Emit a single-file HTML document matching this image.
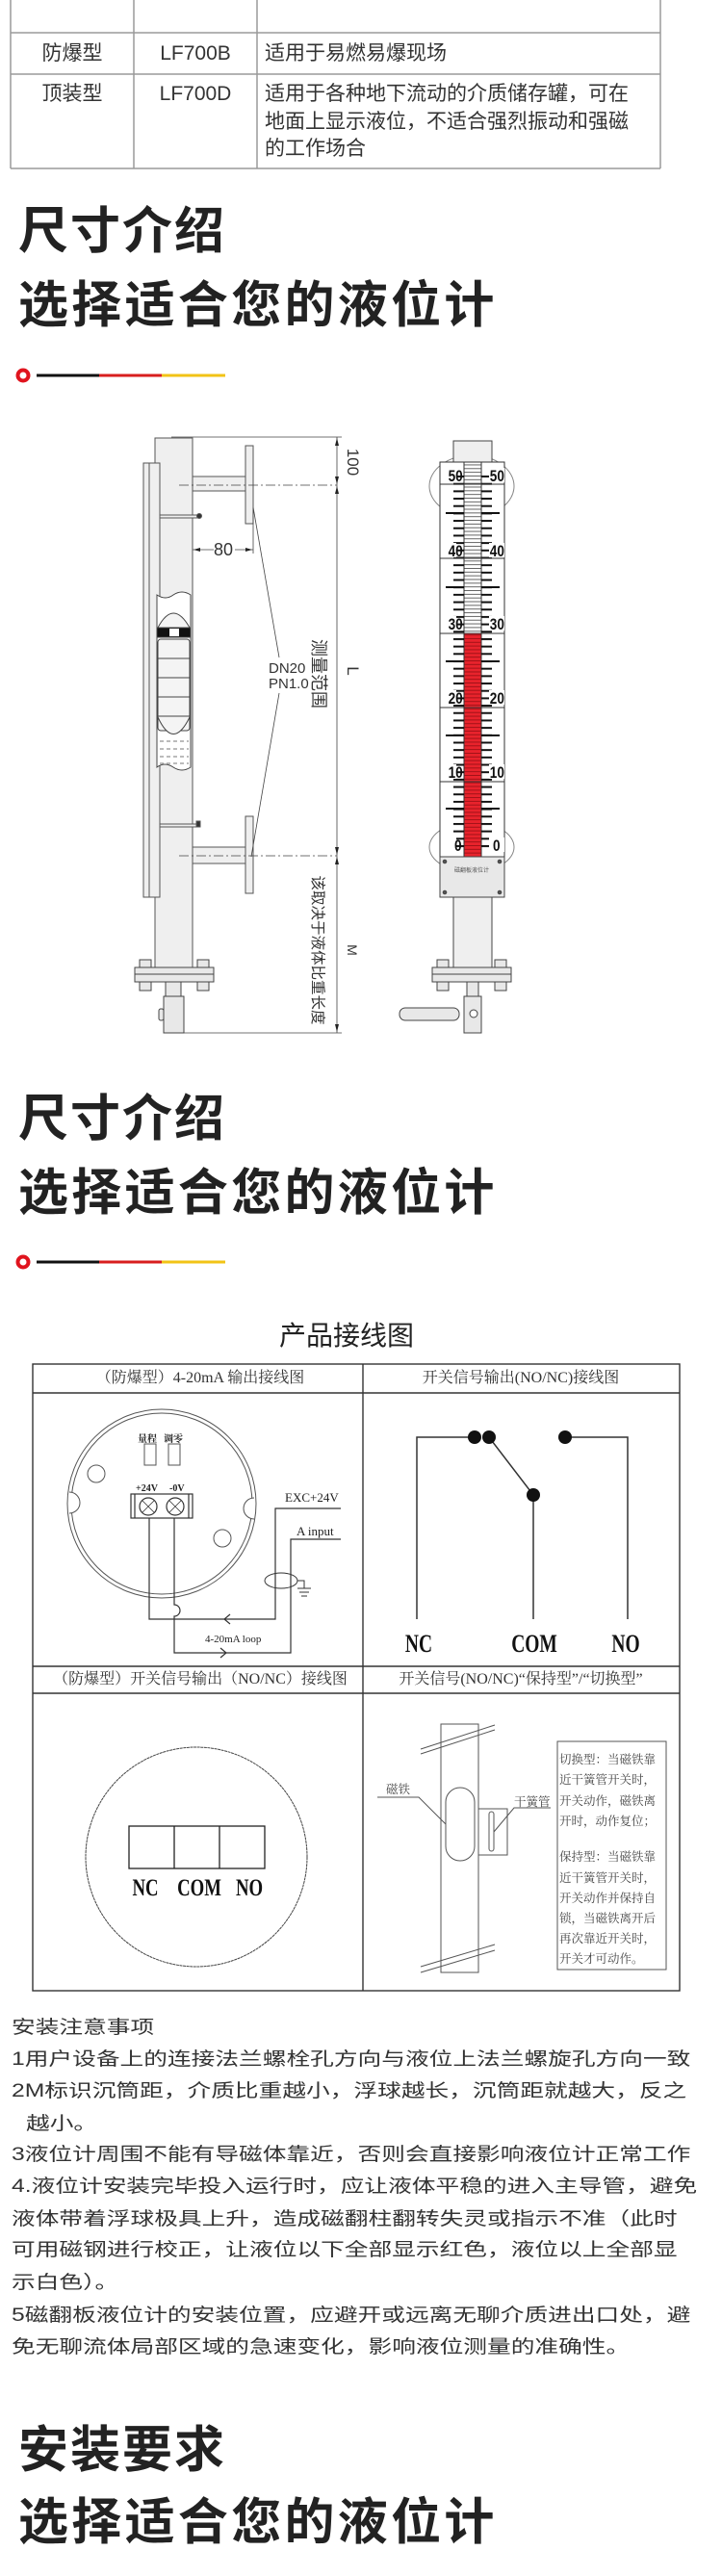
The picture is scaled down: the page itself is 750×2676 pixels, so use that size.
<!DOCTYPE html>
<html><head><meta charset="utf-8">
<style>
*{margin:0;padding:0;box-sizing:border-box}
html,body{width:750px;height:2676px;background:#fff;overflow:hidden}
body{position:relative;font-family:"Liberation Sans","Noto Sans CJK SC",sans-serif;color:#333}
.a{position:absolute;white-space:nowrap}
.h{position:absolute;left:19px;font-family:"Liberation Sans","Noto Sans CJK SC",sans-serif;font-weight:700;color:#222;line-height:1;white-space:nowrap}
.h1{font-size:52px;letter-spacing:2px}
.h2{font-size:52px;letter-spacing:3.3px}
.t{position:absolute;font-size:21px;line-height:28.5px;color:#333}
.n{position:absolute;left:12px;font-size:19px;line-height:20px;transform:scaleX(1.3);transform-origin:0 50%;white-space:nowrap;color:#333}
.s{font-family:"Liberation Serif","Noto Serif CJK SC",serif;font-size:16px;color:#333;position:absolute;white-space:nowrap;line-height:16px;transform:translateX(-50%)}
</style></head><body>

<!-- top table -->
<svg class="a" style="left:0;top:0" width="750" height="180">
<g stroke="#9a9a9a" stroke-width="1.5" fill="none">
<line x1="11" y1="0" x2="11" y2="175"/><line x1="139" y1="0" x2="139" y2="175"/>
<line x1="267" y1="0" x2="267" y2="175"/><line x1="686" y1="0" x2="686" y2="175"/>
<line x1="11" y1="34" x2="686" y2="34"/><line x1="11" y1="77" x2="686" y2="77"/><line x1="11" y1="175" x2="686" y2="175"/>
</g></svg>
<div class="t" style="left:11px;width:128px;text-align:center;top:42px">防爆型</div>
<div class="t" style="left:139px;width:128px;text-align:center;top:42px">LF700B</div>
<div class="t" style="left:275px;top:42px">适用于易燃易爆现场</div>
<div class="t" style="left:11px;width:128px;text-align:center;top:84px">顶装型</div>
<div class="t" style="left:139px;width:128px;text-align:center;top:84px">LF700D</div>
<div class="t" style="left:275px;top:84px;white-space:nowrap">适用于各种地下流动的介质储存罐，可在<br>地面上显示液位，不适合强烈振动和强磁<br>的工作场合</div>

<!-- heading 1 -->
<div class="h h1" style="top:215px">尺寸介绍</div>
<div class="h h2" style="top:292px">选择适合您的液位计</div>
<svg class="a" style="left:0;top:380px" width="250" height="20">
<circle cx="24" cy="10" r="5.5" fill="#fff" stroke="#e0141e" stroke-width="4"/>
<line x1="38" y1="10" x2="103" y2="10" stroke="#111" stroke-width="3"/>
<line x1="103" y1="10" x2="168" y2="10" stroke="#d81e1e" stroke-width="3"/>
<line x1="168" y1="10" x2="234" y2="10" stroke="#f2c316" stroke-width="3"/>
</svg>

<!-- device drawing -->
<svg class="a" style="left:0;top:0" width="750" height="1100">
<defs>
<pattern id="tk" x="0" y="494" width="20" height="7.68" patternUnits="userSpaceOnUse"><rect x="0" y="0" width="20" height="2" fill="#111"/></pattern>
<pattern id="fl" x="0" y="494" width="20" height="3.84" patternUnits="userSpaceOnUse"><rect x="0" y="0" width="20" height="0.9" fill="#555"/></pattern>
<pattern id="rd" x="0" y="494" width="20" height="3.84" patternUnits="userSpaceOnUse"><rect width="20" height="3.84" fill="#e8232c"/><rect x="0" y="0" width="20" height="0.9" fill="#9b1016"/></pattern>
</defs>
<g stroke="#555" stroke-width="1" fill="#efefef">
<!-- left device -->
<rect x="161" y="455" width="39" height="550"/>
<rect x="149" y="481" width="17" height="451"/>
<line x1="155" y1="481" x2="155" y2="932"/>
<rect x="200" y="495" width="55" height="15"/>
<rect x="255" y="463" width="8" height="81"/>
<rect x="200" y="880" width="55" height="17"/>
<rect x="255" y="848" width="8" height="80"/>
<rect x="166" y="535" width="40" height="3"/><circle cx="207" cy="536" r="2.5" fill="#333"/>
<rect x="166" y="856" width="40" height="3"/><rect x="204" y="853" width="4" height="6" fill="#333"/>
</g>
<!-- float -->
<g stroke="#444" stroke-width="1">
<path d="M163 618 q9 6 17 0 q9 -6 18 0 L198 797 q-9 6 -18 0 q-9 -6 -17 0 Z" fill="#fff"/>
<path d="M164 652 q16 -30 33 0 Z" fill="#f4f4f4"/>
<rect x="163" y="652" width="35" height="10" fill="#111"/>
<rect x="176" y="653" width="10" height="8" fill="#fff" stroke="none"/>
<rect x="164" y="664" width="33" height="95" rx="3" fill="#f4f4f4"/>
<line x1="164" y1="684" x2="197" y2="684"/><line x1="164" y1="704" x2="197" y2="704"/>
<line x1="164" y1="724" x2="197" y2="724"/><line x1="164" y1="744" x2="197" y2="744"/>
<path d="M164 745 q16 35 33 0" fill="#f4f4f4"/>
</g>
<g stroke="#777" stroke-width="1" stroke-dasharray="4 3">
<line x1="166" y1="770" x2="196" y2="770"/><line x1="166" y1="778" x2="196" y2="778"/><line x1="166" y1="786" x2="196" y2="786"/><line x1="166" y1="793" x2="196" y2="793"/>
</g>
<!-- centerlines & dims -->
<g stroke="#444" stroke-width="0.8" fill="none">
<line x1="186" y1="504" x2="350" y2="504" stroke-dasharray="10 3 2 3"/>
<line x1="186" y1="889" x2="350" y2="889" stroke-dasharray="10 3 2 3"/>
<line x1="178" y1="454" x2="355" y2="454"/>
<line x1="350" y1="454" x2="350" y2="1073"/>
<line x1="191" y1="1073" x2="355" y2="1073"/>
<line x1="263" y1="527" x2="290" y2="683"/>
<line x1="290" y1="720" x2="261" y2="890"/>
<line x1="263" y1="528" x2="263" y2="575"/>
<line x1="200" y1="571" x2="222" y2="571"/><line x1="244" y1="571" x2="263" y2="571"/>
</g>
<g fill="#222">
<path d="M350 455 l-2 8 h4z"/><path d="M350 503 l-2 -8 h4z"/><path d="M350 505 l-2 8 h4z"/>
<path d="M350 888 l-2 -8 h4z"/><path d="M350 890 l-2 8 h4z"/><path d="M350 1072 l-2 -8 h4z"/>
<path d="M201 571 l7 -2 v4z"/><path d="M262 571 l-7 -2 v4z"/>
</g>
<g font-family="Liberation Sans,Noto Sans CJK SC,sans-serif" fill="#333">
<text x="232" y="577" font-size="18" text-anchor="middle">80</text>
<text x="279" y="699" font-size="15">DN20</text>
<text x="279" y="715" font-size="15">PN1.0</text>
<text transform="translate(361,480) rotate(90)" font-size="17" text-anchor="middle">100</text>
<text transform="translate(361,697) rotate(90)" font-size="17" text-anchor="middle">L</text>
<text transform="translate(361,987) rotate(90)" font-size="14" text-anchor="middle">M</text>
<text transform="translate(325,700) rotate(90)" font-size="18" text-anchor="middle">测量范围</text>
<text transform="translate(325,987) rotate(90)" font-size="15.5" text-anchor="middle">该取决于液体比重长度</text>
</g>
<!-- left base -->
<g stroke="#444" stroke-width="1" fill="#e8e8e8">
<rect x="145" y="997" width="12" height="8"/><rect x="205" y="997" width="12" height="8"/>
<rect x="140" y="1005" width="82" height="7"/><rect x="140" y="1012" width="82" height="8"/>
<rect x="145" y="1020" width="12" height="9"/><rect x="205" y="1020" width="12" height="9"/>
<rect x="172" y="1020" width="16" height="15"/>
<rect x="170" y="1035" width="21" height="38"/>
<rect x="165" y="1048" width="5" height="12" rx="2"/>
</g>
<!-- right device -->
<g stroke="#888" stroke-width="1" fill="none">
<ellipse cx="490" cy="505" rx="44" ry="32"/><ellipse cx="490" cy="880" rx="44" ry="26"/>
</g>
<g stroke="#444" stroke-width="1" fill="#efefef">
<rect x="471" y="458" width="40" height="24"/>
<rect x="457" y="480" width="67" height="410" fill="#fff" stroke="#333"/>
</g>
<rect x="482" y="480" width="18" height="178" fill="url(#fl)"/>
<rect x="482" y="658" width="18" height="232" fill="url(#rd)"/>
<line x1="482" y1="480" x2="482" y2="890" stroke="#333"/><line x1="500" y1="480" x2="500" y2="890" stroke="#333"/>
<rect x="471" y="493" width="11" height="390" fill="url(#tk)"/>
<rect x="500" y="493" width="11" height="390" fill="url(#tk)"/>
<g stroke="#111" stroke-width="2">
<line x1="463" y1="533" x2="482" y2="533"/><line x1="500" y1="533" x2="519" y2="533"/>
<line x1="463" y1="610" x2="482" y2="610"/><line x1="500" y1="610" x2="519" y2="610"/>
<line x1="463" y1="687" x2="482" y2="687"/><line x1="500" y1="687" x2="519" y2="687"/>
<line x1="463" y1="764" x2="482" y2="764"/><line x1="500" y1="764" x2="519" y2="764"/>
<line x1="463" y1="840" x2="482" y2="840"/><line x1="500" y1="840" x2="519" y2="840"/>
</g>
<g stroke="#333" stroke-width="1">
<line x1="457" y1="503" x2="524" y2="503"/><line x1="457" y1="580" x2="524" y2="580"/>
<line x1="457" y1="658" x2="524" y2="658"/><line x1="457" y1="735" x2="524" y2="735"/>
<line x1="457" y1="812" x2="524" y2="812"/>
</g>
<g font-family="Liberation Sans,sans-serif" font-weight="700" font-size="17" fill="#111">
<rect x="458" y="486" width="16" height="15" fill="#fff"/><rect x="508" y="486" width="16" height="15" fill="#fff"/>
<rect x="458" y="564" width="16" height="15" fill="#fff"/><rect x="508" y="564" width="16" height="15" fill="#fff"/>
<rect x="458" y="640" width="16" height="15" fill="#fff"/><rect x="508" y="640" width="16" height="15" fill="#fff"/>
<rect x="458" y="717" width="16" height="15" fill="#fff"/><rect x="508" y="717" width="16" height="15" fill="#fff"/>
<rect x="458" y="794" width="16" height="15" fill="#fff"/><rect x="508" y="794" width="16" height="15" fill="#fff"/>
<rect x="458" y="870" width="16" height="15" fill="#fff"/><rect x="508" y="870" width="16" height="15" fill="#fff"/>
<g transform="scale(0.8,1)">
<text x="582" y="500">50</text><text x="636" y="500">50</text>
<text x="582" y="578">40</text><text x="636" y="578">40</text>
<text x="582" y="654">30</text><text x="636" y="654">30</text>
<text x="582" y="731">20</text><text x="636" y="731">20</text>
<text x="582" y="808">10</text><text x="636" y="808">10</text>
<text x="590" y="884">0</text><text x="640" y="884">0</text>
</g>
</g>
<g stroke="#444" stroke-width="1" fill="#e8e8e8">
<rect x="457" y="890" width="67" height="42"/>
<circle cx="462" cy="895" r="1.8" fill="#555"/><circle cx="519" cy="895" r="1.8" fill="#555"/>
<circle cx="462" cy="927" r="1.8" fill="#555"/><circle cx="519" cy="927" r="1.8" fill="#555"/>
<rect x="471" y="932" width="40" height="73" fill="#efefef"/>
<rect x="454" y="997" width="12" height="8"/><rect x="514" y="997" width="12" height="8"/>
<rect x="449" y="1005" width="82" height="7"/><rect x="449" y="1012" width="82" height="8"/>
<rect x="454" y="1020" width="12" height="9"/><rect x="514" y="1020" width="12" height="9"/>
<rect x="485" y="1020" width="12" height="15"/>
<rect x="482" y="1035" width="18" height="38"/>
<rect x="415" y="1047" width="62" height="13" rx="6"/>
<circle cx="492" cy="1053" r="4" fill="#fff"/>
</g>
<text x="490" y="906" font-size="6" text-anchor="middle" fill="#555" font-family="Noto Sans CJK SC,sans-serif">磁翻板液位计</text>
</svg>

<!-- heading 2 -->
<div class="h h1" style="top:1137px">尺寸介绍</div>
<div class="h h2" style="top:1214px">选择适合您的液位计</div>
<svg class="a" style="left:0;top:1301px" width="250" height="20">
<circle cx="24" cy="10" r="5.5" fill="#fff" stroke="#e0141e" stroke-width="4"/>
<line x1="38" y1="10" x2="103" y2="10" stroke="#111" stroke-width="3"/>
<line x1="103" y1="10" x2="168" y2="10" stroke="#d81e1e" stroke-width="3"/>
<line x1="168" y1="10" x2="234" y2="10" stroke="#f2c316" stroke-width="3"/>
</svg>

<div class="a" style="left:0;width:720px;text-align:center;top:1372px;font-size:28px;line-height:32px;color:#222">产品接线图</div>

<!-- wiring table -->
<svg class="a" style="left:0;top:1400px" width="750" height="680">
<g transform="translate(0,-1400)">
<g stroke="#333" stroke-width="1.4" fill="none">
<rect x="34" y="1417" width="672" height="651"/>
<line x1="377" y1="1417" x2="377" y2="2068"/>
<line x1="34" y1="1447" x2="706" y2="1447"/>
<line x1="34" y1="1731" x2="706" y2="1731"/>
<line x1="34" y1="1759" x2="706" y2="1759"/>
</g>
<!-- cell 1 -->
<g stroke="#555" stroke-width="1" fill="none">
<circle cx="168" cy="1562" r="98"/>
<circle cx="168" cy="1562" r="94"/>
<circle cx="100" cy="1531" r="9"/>
<circle cx="231" cy="1598" r="9"/>
<path d="M72 1550 a11 11 0 0 1 0 22" fill="#fff"/>
<path d="M264 1556 a11 11 0 0 0 0 22" fill="#fff"/>
<rect x="150" y="1500" width="12" height="22"/>
<rect x="175" y="1500" width="12" height="22"/>
</g>
<g stroke="#333" stroke-width="1.2" fill="none">
<rect x="136" y="1552" width="64" height="25"/>
<line x1="140" y1="1552" x2="140" y2="1577"/><line x1="196" y1="1552" x2="196" y2="1577"/>
<circle cx="154" cy="1565" r="9"/><circle cx="182" cy="1565" r="9"/>
<path d="M148 1559 l12 12 M160 1559 l-12 12 M176 1559 l12 12 M188 1559 l-12 12" stroke-width="0.8"/>
<path d="M155 1577 V1682 H286 V1567 H354"/>
<path d="M181 1577 V1667 a6 6 0 0 1 0 12 V1717 H302 V1599 H354"/>
<path d="M239 1677 l-6 5 l6 5"/>
<path d="M229 1712 l6 5 l-6 5"/>
<ellipse cx="292" cy="1642" rx="17" ry="8" stroke-width="1"/>
<path d="M309 1642 h7 v8 M309 1650 h14 M311 1654 h10 M313 1658 h6" stroke-width="1"/>
</g>
<g font-family="Liberation Serif,Noto Serif CJK SC,serif" fill="#222" font-weight="700">
<text x="143" y="1498" font-size="10">量程</text><text x="170" y="1498" font-size="10">调零</text>
<text x="141" y="1549" font-size="10">+24V</text><text x="176" y="1549" font-size="10">-0V</text>
<text x="296" y="1560" font-size="13" font-weight="400">EXC+24V</text>
<text x="308" y="1595" font-size="13" font-weight="400">A input</text>
<text x="213" y="1706" font-size="11" font-weight="400">4-20mA loop</text>
</g>
<!-- cell 2 -->
<g stroke="#333" stroke-width="1.5" fill="none">
<path d="M433 1682 V1493 H493"/>
<path d="M508 1493 L554 1553 V1682"/>
<path d="M587 1493 H652 V1682"/>
</g>
<g fill="#111"><circle cx="493" cy="1493" r="7"/><circle cx="508" cy="1493" r="7"/><circle cx="587" cy="1493" r="7"/><circle cx="554" cy="1553" r="7"/></g>
<g font-family="Liberation Serif,serif" font-weight="700" font-size="26" fill="#111" text-anchor="middle">
<text transform="translate(435,1716) scale(0.75,1)">NC</text>
<text transform="translate(555,1716) scale(0.75,1)">COM</text>
<text transform="translate(650,1716) scale(0.75,1)">NO</text>
</g>
<!-- cell 3 -->
<g stroke="#444" stroke-width="1" fill="none">
<ellipse cx="204" cy="1929" rx="115" ry="114" stroke-dasharray="3 0.6"/>
<rect x="134" y="1897" width="141" height="44" stroke="#222" stroke-width="1.3"/>
<line x1="181" y1="1897" x2="181" y2="1941" stroke="#222" stroke-width="1.3"/>
<line x1="228" y1="1897" x2="228" y2="1941" stroke="#222" stroke-width="1.3"/>
</g>
<g font-family="Liberation Serif,serif" font-weight="700" font-size="25" fill="#111" text-anchor="middle">
<text transform="translate(151,1969) scale(0.75,1)">NC</text>
<text transform="translate(207,1969) scale(0.75,1)">COM</text>
<text transform="translate(259,1969) scale(0.75,1)">NO</text>
</g>
<!-- cell 4 -->
<g stroke="#555" stroke-width="1" fill="none">
<rect x="458" y="1791" width="39" height="258"/>
<line x1="437" y1="1817" x2="514" y2="1792"/><line x1="437" y1="1822" x2="514" y2="1797"/>
<line x1="437" y1="2043" x2="514" y2="2020"/><line x1="437" y1="2049" x2="514" y2="2026"/>
<rect x="463" y="1857" width="30" height="76" rx="15"/>
<rect x="497" y="1879" width="30" height="48"/>
<rect x="508" y="1882" width="5" height="41" rx="2.5"/>
<path d="M392 1867 H435 L463 1895"/>
<path d="M572 1878 H534 L513 1903"/>
<rect x="579" y="1809" width="113" height="237"/>
</g>
<g font-family="Liberation Serif,Noto Serif CJK SC,serif" font-size="12.5" fill="#444">
<text x="401" y="1863">磁铁</text>
<text x="534" y="1876">干簧管</text>
<text x="581" y="1832">切换型：当磁铁靠</text>
<text x="581" y="1853">近干簧管开关时，</text>
<text x="581" y="1875">开关动作，磁铁离</text>
<text x="581" y="1896">开时，动作复位；</text>
<text x="581" y="1933">保持型：当磁铁靠</text>
<text x="581" y="1955">近干簧管开关时，</text>
<text x="581" y="1976">开关动作并保持自</text>
<text x="581" y="1997">锁，当磁铁离开后</text>
<text x="581" y="2018">再次靠近开关时，</text>
<text x="581" y="2039">开关才可动作。</text>
</g>
</g>
</svg>
<div class="s" style="left:208px;top:1424px">（防爆型）4-20mA 输出接线图</div>
<div class="s" style="left:541px;top:1424px">开关信号输出(NO/NC)接线图</div>
<div class="s" style="left:208px;top:1737px">（防爆型）开关信号输出（NO/NC）接线图</div>
<div class="s" style="left:541px;top:1737px">开关信号(NO/NC)“保持型”/“切换型”</div>

<!-- notes -->
<div class="n" style="top:2097px">安装注意事项</div>
<div class="n" style="top:2130px">1用户设备上的连接法兰螺栓孔方向与液位上法兰螺旋孔方向一致</div>
<div class="n" style="top:2163px">2M标识沉筒距，介质比重越小，浮球越长，沉筒距就越大，反之</div>
<div class="n" style="top:2197px;left:27px">越小。</div>
<div class="n" style="top:2229px">3液位计周围不能有导磁体靠近，否则会直接影响液位计正常工作</div>
<div class="n" style="top:2262px">4.液位计安装完毕投入运行时，应让液体平稳的进入主导管，避免</div>
<div class="n" style="top:2296px">液体带着浮球极具上升，造成磁翻柱翻转失灵或指示不准（此时</div>
<div class="n" style="top:2328px">可用磁钢进行校正，让液位以下全部显示红色，液位以上全部显</div>
<div class="n" style="top:2362px">示白色）。</div>
<div class="n" style="top:2396px">5磁翻板液位计的安装位置，应避开或远离无聊介质进出口处，避</div>
<div class="n" style="top:2429px">免无聊流体局部区域的急速变化，影响液位测量的准确性。</div>

<div class="h h1" style="top:2520px">安装要求</div>
<div class="h h2" style="top:2595px">选择适合您的液位计</div>
</body></html>
